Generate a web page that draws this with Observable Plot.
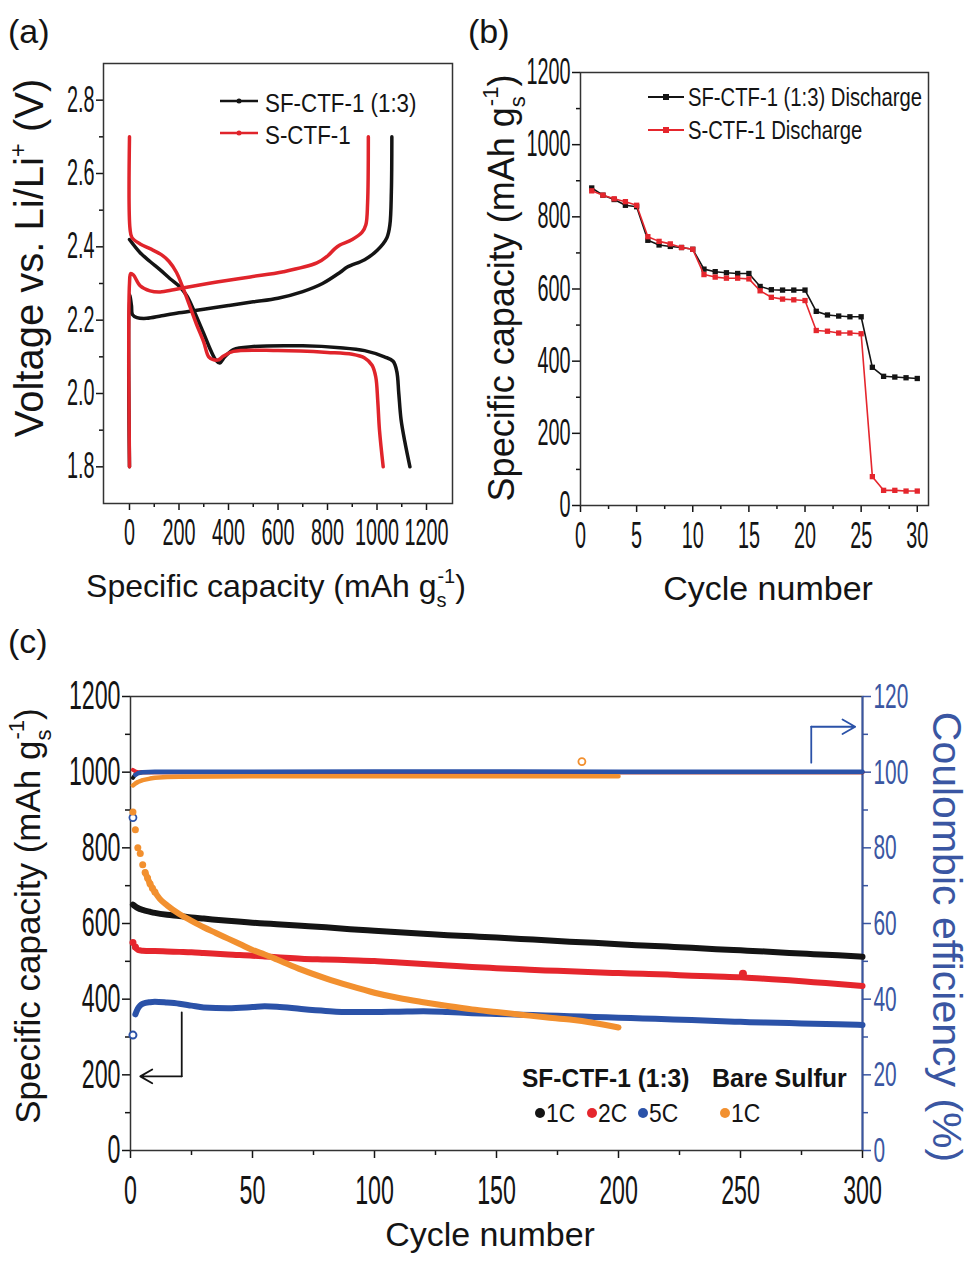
<!DOCTYPE html>
<html><head><meta charset="utf-8">
<script src="https://cdn.jsdelivr.net/npm/d3@7"></script>
<script src="https://cdn.jsdelivr.net/npm/@observablehq/plot@0.6"></script>
<style>
body{margin:0;background:#fff;}
#page{position:relative;width:970px;height:1264px;overflow:hidden;background:#fff;}
</style></head><body><div id="page"></div>
<script>
// ---------- Panel (a): voltage profiles ----------
const aSfDisCap = [0, 43, 83, 124, 164, 205, 232, 259, 299, 330, 350, 365, 385, 420, 500, 700, 850, 950, 1030, 1065, 1080, 1088, 1097, 1112, 1133];
const aSfDisV   = [2.42, 2.384, 2.36, 2.337, 2.313, 2.29, 2.266, 2.228, 2.165, 2.115, 2.09, 2.083, 2.10, 2.12, 2.128, 2.13, 2.125, 2.117, 2.10, 2.088, 2.06, 2.0, 1.93, 1.87, 1.80];
const aSfChCap  = [0, 0, 8, 12, 30, 70, 130, 200, 300, 400, 500, 600, 700, 780, 850, 880, 950, 1000, 1040, 1052, 1058, 1060];
const aSfChV    = [1.80, 2.27, 2.24, 2.215, 2.207, 2.205, 2.212, 2.22, 2.23, 2.24, 2.25, 2.26, 2.278, 2.30, 2.33, 2.345, 2.365, 2.39, 2.425, 2.46, 2.55, 2.70];
const aSDisCap  = [0, 2, 10, 43, 83, 130, 160, 190, 215, 240, 270, 300, 320, 340, 360, 380, 420, 600, 800, 900, 950, 980, 995, 1003, 1010, 1025];
const aSDisV    = [2.70, 2.45, 2.425, 2.408, 2.395, 2.378, 2.36, 2.33, 2.29, 2.245, 2.19, 2.14, 2.10, 2.092, 2.092, 2.102, 2.115, 2.117, 2.112, 2.107, 2.097, 2.077, 2.045, 1.98, 1.90, 1.80];
const aSChCap   = [0, 0, 5, 16, 43, 83, 124, 178, 232, 353, 488, 622, 757, 800, 830, 850, 900, 940, 955, 962, 965];
const aSChV     = [1.80, 2.30, 2.327, 2.323, 2.294, 2.28, 2.277, 2.283, 2.29, 2.304, 2.318, 2.332, 2.356, 2.375, 2.395, 2.405, 2.42, 2.44, 2.46, 2.52, 2.70];
const aXMajor = [0, 200, 400, 600, 800, 1000, 1200];
const aXMinor = [100, 300, 500, 700, 900, 1100];
const aYMajor = [1.8, 2.0, 2.2, 2.4, 2.6, 2.8];
const aYMinor = [1.9, 2.1, 2.3, 2.5, 2.7];
const aSeries = ["SF-CTF-1 (1:3)", "S-CTF-1"];

// ---------- Panel (b): rate capability ----------
const bCycles = [1,2,3,4,5,6,7,8,9,10,11,12,13,14,15,16,17,18,19,20,21,22,23,24,25,26,27,28,29,30];
const bSf = [880,860,848,832,828,735,722,718,715,710,655,648,645,643,643,607,598,597,597,597,538,528,525,523,523,383,358,356,354,352];
const bS  = [872,860,850,842,832,745,732,725,715,710,640,633,630,630,628,595,577,572,570,568,485,483,478,478,476,80,42,42,40,40];
const bXMajor = [0,5,10,15,20,25,30];
const bXMinor = [2.5,7.5,12.5,17.5,22.5,27.5];
const bYMajor = [0,200,400,600,800,1000,1200];
const bYMinor = [100,300,500,700,900,1100];
const bSeries = ["SF-CTF-1 (1:3) Discharge", "S-CTF-1 Discharge"];

// ---------- Panel (c): long cycling ----------
const cCycles = [1,2,3,5,8,10,15,20,25,30,40,50,55,60,70,80,90,100,110,120,130,140,150,160,170,180,190,200,210,220,230,240,250,260,270,280,290,300];
const c1C = [650,645,641,636,631,628,623,620,616,613,607,602,600,598,594,590,585,581,577,573,569,566,563,559,556,552,549,545,542,539,536,532,529,526,522,519,516,512];
const c2C = [550,538,530,528,527,527,526,525,524,522,518,515,513,511,507,505,503,501,497,493,489,485,482,479,476,474,471,469,467,465,462,460,458,454,450,445,440,435];
const c5C = [305,360,375,388,392,393,391,388,383,378,376,379,381,380,374,369,366,366,367,368,366,363,361,359,357,355,353,351,349,347,345,342,340,338,337,335,334,332];
const cBareCycles = [1,2,3,4,5,6,7,8,9,10,12,15,20,25,30,35,40,45,50,55,60,70,80,90,100,110,120,130,140,150,160,170,180,190,200];
const cBare = [895,848,800,785,755,735,720,705,693,683,665,648,625,607,590,575,560,545,530,518,505,478,455,435,417,403,392,382,373,366,359,352,346,337,325];
const cCECycles = [1,2,3,5,10,20,50,100,150,200,250,300];
const cCE1C = [98.5,99.4,99.8,100,100,100,100,100,100,100,100,100];
const cCE2C = [100.6,100.2,100,100,100,100,100,100,100,100,100,100];
const cCE5C = [88,99.3,99.7,100,100.1,100.1,100.1,100.2,100.2,100.1,100.1,100.1];
const cCEBareCycles = [1,2,3,5,8,10,15,20,50,100,150,185,200];
const cCEBare = [96.5,97.0,97.4,97.9,98.3,98.5,98.7,98.8,98.9,98.9,98.9,102.8,98.9];
const cOutlier2C = [[251, 467]];
const cXMajor = [0,50,100,150,200,250,300];
const cXMinor = [25,75,125,175,225,275];
const cYMajor = [0,200,400,600,800,1000,1200];
const cYMinor = [100,300,500,700,900,1100];
const cCEMajor = [0,20,40,60,80,100,120];
const cCEMinor = [10,30,50,70,90,110];
const cArrowCap = [[21,365],[21,196],[4,196]];
const cArrowCE = [[279,102.5],[279,112],[297,112]];

// ---------- helpers ----------
const FONT = '"Liberation Sans", Arial, Helvetica, sans-serif';
const BLACK = "#141414", RED_A = "#e0242b", RED = "#e5262d", BLUE = "#2b52a8", ORANGE = "#f2902f", AXBLUE = "#3a56a2";
const page = document.getElementById("page");

function place(svg, left, top) {
  svg.style.position = "absolute";
  svg.style.left = left + "px";
  svg.style.top = top + "px";
  svg.style.overflow = "visible";
  page.appendChild(svg);
}
function condenseTicks(svg, k) {
  d3.select(svg).selectAll('g[aria-label$="tick label"] text').each(function () {
    const x = parseFloat(this.getAttribute("x")) || 0;
    const y = parseFloat(this.getAttribute("y")) || 0;
    const t = this.getAttribute("transform") || "";
    this.setAttribute("transform", `${t} translate(${x},${y}) scale(${k},1) translate(${-x},${-y})`);
  });
}
function rich(svg, {x, y, rotate = 0, size, k = 1, fill = BLACK, weight = "normal", anchor = "middle", parts}) {
  const t = d3.select(svg).append("text")
    .attr("transform", `translate(${x},${y}) rotate(${rotate}) scale(${k},1)`)
    .attr("text-anchor", anchor).attr("font-family", FONT).attr("font-size", size)
    .attr("font-weight", weight).attr("fill", fill);
  for (const p of parts) {
    const s = t.append("tspan").text(p.t);
    if (p.size) s.attr("font-size", p.size);
    if (p.dx) s.attr("dx", p.dx);
    if (p.dy) s.attr("dy", p.dy);
  }
  return t;
}
function unitParts(pre, size) {
  const s = Math.round(size * 0.62);
  return [{t: pre + "(mAh g"}, {t: "s", size: s, dy: size * 0.3}, {t: "-1", size: s, dx: -s * 0.45, dy: -size * 0.75}, {t: ")", size: size, dy: size * 0.45}];
}
const zip = (xs, ys) => xs.map((x, i) => [x, ys[i]]);
const baseStyle = (fs) => ({fontFamily: FONT, fontSize: fs + "px", color: BLACK, background: "transparent", overflow: "visible"});

// ---------- Panel (a) ----------
const svgA = Plot.plot({
  width: 480, height: 620,
  marginLeft: 103, marginRight: 28, marginTop: 63, marginBottom: 117,
  x: {domain: [-105, 1305]},
  y: {domain: [1.7, 2.9]},
  style: baseStyle(36),
  marks: [
    Plot.axisX({ticks: aXMajor, tickSize: 7, tickPadding: 9, tickFormat: d => String(d), label: null, strokeWidth: 1.5}),
    Plot.axisX({ticks: aXMinor, tickSize: 4, tickFormat: () => "", label: null, strokeWidth: 1.5}),
    Plot.axisY({ticks: aYMajor, tickSize: 7, tickPadding: 2, tickFormat: d => d.toFixed(1), label: null, strokeWidth: 1.5}),
    Plot.axisY({ticks: aYMinor, tickSize: 4, tickFormat: () => "", label: null, strokeWidth: 1.5}),
    Plot.line(zip(aSfChCap, aSfChV), {stroke: BLACK, strokeWidth: 3.5, curve: "catmull-rom"}),
    Plot.line(zip(aSfDisCap, aSfDisV), {stroke: BLACK, strokeWidth: 3.5, curve: "catmull-rom"}),
    Plot.line(zip(aSChCap, aSChV), {stroke: RED_A, strokeWidth: 3.5, curve: "catmull-rom"}),
    Plot.line(zip(aSDisCap, aSDisV), {stroke: RED_A, strokeWidth: 3.5, curve: "catmull-rom"}),
    Plot.frame({stroke: "#333", strokeWidth: 1.5})
  ]
});
condenseTicks(svgA, 0.55);
{
  const g = d3.select(svgA).append("g");
  [[BLACK, 101, 112, aSeries[0]], [RED_A, 133, 144, aSeries[1]]].forEach(([c, ly, by, label]) => {
    g.append("line").attr("x1", 220).attr("x2", 258).attr("y1", ly).attr("y2", ly).attr("stroke", c).attr("stroke-width", 2.5);
    g.append("circle").attr("cx", 239).attr("cy", ly).attr("r", 2.5).attr("fill", c);
    rich(svgA, {x: 265, y: by, size: 26, k: 0.86, anchor: "start", parts: [{t: label}]});
  });
}
rich(svgA, {x: 8, y: 43, size: 34, anchor: "start", parts: [{t: "(a)"}]});
rich(svgA, {x: 43, y: 258, rotate: -90, size: 40, parts: [{t: "Voltage vs. Li/Li"}, {t: "+", size: 24, dy: -17}, {t: " (V)", size: 40, dy: 17}]});
rich(svgA, {x: 276, y: 597, size: 32, parts: unitParts("Specific capacity ", 32)});
place(svgA, 0, 0);

// ---------- Panel (b) ----------
const svgB = Plot.plot({
  width: 490, height: 620,
  marginLeft: 100, marginRight: 42, marginTop: 72, marginBottom: 115,
  x: {domain: [0, 31]},
  y: {domain: [0, 1200]},
  style: baseStyle(36),
  marks: [
    Plot.axisX({ticks: bXMajor, tickSize: 7, tickPadding: 10, tickFormat: d => String(d), label: null, strokeWidth: 1.5}),
    Plot.axisX({ticks: bXMinor, tickSize: 4, tickFormat: () => "", label: null, strokeWidth: 1.5}),
    Plot.axisY({ticks: bYMajor, tickSize: 8, tickPadding: 2, tickFormat: d => String(d), label: null, strokeWidth: 1.5}),
    Plot.axisY({ticks: bYMinor, tickSize: 4, tickFormat: () => "", label: null, strokeWidth: 1.5}),
    Plot.line(zip(bCycles, bSf), {stroke: BLACK, strokeWidth: 1.6}),
    Plot.dot(zip(bCycles, bSf), {symbol: "square", r: 3, fill: BLACK}),
    Plot.line(zip(bCycles, bS), {stroke: RED, strokeWidth: 1.6}),
    Plot.dot(zip(bCycles, bS), {symbol: "square", r: 3, fill: RED}),
    Plot.frame({stroke: "#333", strokeWidth: 1.5})
  ]
});
condenseTicks(svgB, 0.55);
{
  const g = d3.select(svgB).append("g");
  [[BLACK, 97, 106, bSeries[0]], [RED, 130, 139, bSeries[1]]].forEach(([c, ly, by, label]) => {
    g.append("line").attr("x1", 168).attr("x2", 204).attr("y1", ly).attr("y2", ly).attr("stroke", c).attr("stroke-width", 1.8);
    g.append("rect").attr("x", 183).attr("y", ly - 3).attr("width", 6).attr("height", 6).attr("fill", c);
    rich(svgB, {x: 208, y: by, size: 25, k: 0.81, anchor: "start", parts: [{t: label}]});
  });
}
rich(svgB, {x: -12, y: 43, size: 34, anchor: "start", parts: [{t: "(b)"}]});
rich(svgB, {x: 34, y: 288, rotate: -90, size: 36, parts: unitParts("Specific capacity ", 36)});
rich(svgB, {x: 288, y: 600, size: 34, parts: [{t: "Cycle number"}]});
place(svgB, 480, 0);

// ---------- Panel (c) ----------
const ce = v => v * 10; // CE (%) drawn against the right axis (0–120 % ↔ 0–1200)
const svgC = Plot.plot({
  width: 970, height: 644,
  marginLeft: 130, marginRight: 108, marginTop: 76, marginBottom: 114,
  x: {domain: [0, 300]},
  y: {domain: [0, 1200]},
  style: baseStyle(40),
  marks: [
    Plot.axisX({ticks: cXMajor, tickSize: 8, tickPadding: 17, tickFormat: d => String(d), label: null, strokeWidth: 1.5}),
    Plot.axisX({ticks: cXMinor, tickSize: 5, tickFormat: () => "", label: null, strokeWidth: 1.5}),
    Plot.axisY({ticks: cYMajor, tickSize: 8, tickPadding: 2, tickFormat: d => String(d), label: null, strokeWidth: 1.5}),
    Plot.axisY({ticks: cYMinor, tickSize: 5, tickFormat: () => "", label: null, strokeWidth: 1.5}),
    Plot.axisY({anchor: "right", ticks: cCEMajor.map(ce), tickSize: 8, tickPadding: 3, fontSize: 36, tickFormat: d => String(d / 10), label: null, strokeWidth: 1.5, color: AXBLUE}),
    Plot.axisY({anchor: "right", ticks: cCEMinor.map(ce), tickSize: 5, tickFormat: () => "", label: null, strokeWidth: 1.5, color: AXBLUE}),
    Plot.frame({stroke: "#333", strokeWidth: 1.5}),
    Plot.ruleX([300], {stroke: AXBLUE, strokeWidth: 2}),
    // Coulombic efficiency
    Plot.line(zip(cCECycles, cCE1C.map(ce)), {stroke: BLACK, strokeWidth: 4}),
    Plot.line(zip(cCECycles, cCE2C.map(ce)), {stroke: RED, strokeWidth: 4}),
    Plot.line(zip(cCEBareCycles, cCEBare.map(ce)).filter(d => d[0] !== 185), {stroke: ORANGE, strokeWidth: 4.5}),
    Plot.dot(zip(cCEBareCycles, cCEBare.map(ce)).filter(d => d[0] === 185), {r: 3.5, stroke: ORANGE, strokeWidth: 1.8, fill: "white"}),
    Plot.line(zip(cCECycles, cCE5C.map(ce)).slice(1), {stroke: BLUE, strokeWidth: 4.5}),
    Plot.dot(zip(cCECycles, cCE5C.map(ce)).slice(0, 1), {r: 3.5, stroke: BLUE, strokeWidth: 1.8, fill: "white"}),
    // discharge capacity
    Plot.line(zip(cCycles, c1C), {stroke: BLACK, strokeWidth: 6, curve: "monotone-x"}),
    Plot.line(zip(cCycles, c2C).slice(1), {stroke: RED, strokeWidth: 6, curve: "monotone-x"}),
    Plot.dot(zip(cCycles, c2C).slice(0, 2), {r: 3.5, fill: RED}),
    Plot.dot(cOutlier2C, {r: 4, fill: RED}),
    Plot.line(zip(cCycles, c5C).slice(1), {stroke: BLUE, strokeWidth: 6, curve: "monotone-x"}),
    Plot.dot(zip(cCycles, c5C).slice(0, 1), {r: 3.5, stroke: BLUE, strokeWidth: 2, fill: "white"}),
    Plot.dot(zip(cBareCycles, cBare).slice(0, 10), {r: 3.5, fill: ORANGE}),
    Plot.line(zip(cBareCycles, cBare).slice(5), {stroke: ORANGE, strokeWidth: 6, curve: "monotone-x"}),
    // arrows to the axes
    Plot.line(cArrowCap.slice(0, 2), {stroke: BLACK, strokeWidth: 1.8}),
    Plot.arrow([[cArrowCap[1], cArrowCap[2]]], {x1: d => d[0][0], y1: d => d[0][1], x2: d => d[1][0], y2: d => d[1][1], stroke: BLACK, strokeWidth: 1.8, headLength: 14}),
    Plot.line(cArrowCE.slice(0, 2).map(([x, y]) => [x, ce(y)]), {stroke: BLUE, strokeWidth: 1.8}),
    Plot.arrow([[cArrowCE[1], cArrowCE[2]]], {x1: d => d[0][0], y1: d => ce(d[0][1]), x2: d => d[1][0], y2: d => ce(d[1][1]), stroke: BLUE, strokeWidth: 1.8, headLength: 14})
  ]
});
condenseTicks(svgC, 0.58);
{
  const g = d3.select(svgC).append("g");
  rich(svgC, {x: 522, y: 467, size: 25, weight: "bold", anchor: "start", k: 0.98, parts: [{t: "SF-CTF-1 (1:3)"}]});
  rich(svgC, {x: 712, y: 467, size: 25, weight: "bold", anchor: "start", k: 1, parts: [{t: "Bare Sulfur"}]});
  [[BLACK, 540, "1C"], [RED, 592, "2C"], [BLUE, 643, "5C"], [ORANGE, 725, "1C"]].forEach(([c, x, t]) => {
    g.append("circle").attr("cx", x).attr("cy", 493).attr("r", 5).attr("fill", c);
    rich(svgC, {x: x + 6, y: 502, size: 26, anchor: "start", k: 0.88, parts: [{t}]});
  });
}
rich(svgC, {x: 8, y: 33, size: 34, anchor: "start", parts: [{t: "(c)"}]});
rich(svgC, {x: 40, y: 296, rotate: -90, size: 35, parts: unitParts("Specific capacity ", 35)});
rich(svgC, {x: 933, y: 317, rotate: 90, size: 41, fill: AXBLUE, parts: [{t: "Coulombic efficiency (%)"}]});
rich(svgC, {x: 490, y: 626, size: 34, parts: [{t: "Cycle number"}]});
place(svgC, 0, 620);
</script>
</body></html>
